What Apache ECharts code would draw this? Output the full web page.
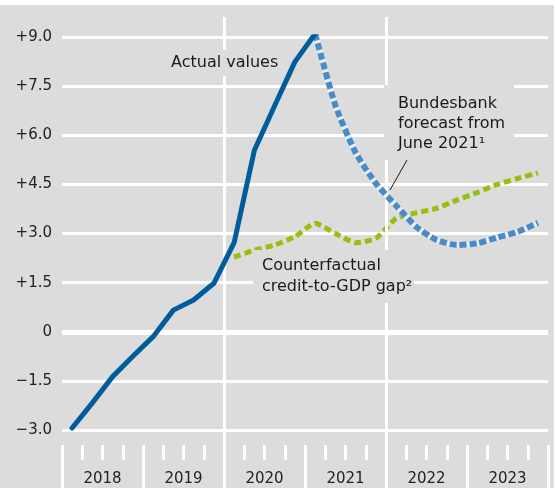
<!DOCTYPE html>
<html>
<head>
<meta charset="utf-8">
<script src="https://cdn.jsdelivr.net/npm/echarts@6/dist/echarts.min.js"></script>
<style>
html,body{margin:0;padding:0;background:#fff;}
#c{width:555px;height:488px;}
</style>
</head>
<body>
<div id="c"></div>
<script>
const quarters = ['2018Q1','2018Q2','2018Q3','2018Q4','2019Q1','2019Q2','2019Q3','2019Q4',
  '2020Q1','2020Q2','2020Q3','2020Q4','2021Q1','2021Q2','2021Q3','2021Q4',
  '2022Q1','2022Q2','2022Q3','2022Q4','2023Q1','2023Q2','2023Q3','2023Q4'];
const yearLabels = ['2018','2019','2020','2021','2022','2023'];
const yTickValues = [-3, -1.5, 0, 1.5, 3, 4.5, 6, 7.5, 9];
const yTickLabels = ['\u22123.0','\u22121.5','0','+1.5','+3.0','+4.5','+6.0','+7.5','+9.0'];

const actual = [-2.94, -2.17, -1.37, -0.75, -0.15, 0.66, 0.97, 1.48,
  2.72, 5.54, 6.9, 8.24, 9.1, null, null, null,
  null, null, null, null, null, null, null, null];
const forecast = [null, null, null, null, null, null, null, null,
  null, null, null, null, 9.1, 6.91, 5.47, 4.53,
  3.85, 3.2, 2.8, 2.65, 2.7, 2.88, 3.05, 3.33];
const counterfactual = [null, null, null, null, null, null, null, null,
  2.28, 2.49, 2.65, 2.9, 3.31, 3.0, 2.72, 2.85,
  3.46, 3.63, 3.77, 4.02, 4.25, 4.5, 4.68, 4.85];

const FONT = 'DejaVu Sans';
const BG = '#dcdcdc';
const chart = echarts.init(document.getElementById('c'), null, {renderer:'canvas'});

const option = {
  animation: false,
  backgroundColor: BG,
  grid: [
    {left: 62, right: 7, top: 37, bottom: 58},
    {left: 62, right: 7, top: 17, bottom: 43},
    {left: 62, right: 7, top: 17, bottom: 43}
  ],
  xAxis: [
    {type:'category', gridIndex:0, data: quarters, boundaryGap:true,
     axisLine:{show:false}, axisTick:{show:false}, axisLabel:{show:false}, splitLine:{show:false}},
    {type:'value', gridIndex:1, min:0, max:24, interval:1, position:'bottom',
     axisLine:{show:false}, splitLine:{show:false},
     axisTick:{show:true, length:15, lineStyle:{color:'#fff', width:3}},
     axisLabel:{show:true, margin:27, fontFamily:FONT, fontSize:15, color:'#222',
       formatter: function(v){ return (v % 4 === 2) ? yearLabels[(v-2)/4] : ''; }}},
    {type:'value', gridIndex:2, min:0, max:24, interval:4, position:'bottom',
     axisLine:{show:false}, splitLine:{show:false}, axisLabel:{show:false},
     axisTick:{show:true, length:43, lineStyle:{color:'#fff', width:3}}}
  ],
  yAxis: [
    {type:'value', gridIndex:0, min:-3, max:9, interval:1.5,
     axisLine:{show:false}, axisTick:{show:false},
     splitLine:{show:true, lineStyle:{color:'#fff', width:3}},
     axisLabel:{margin:10, fontFamily:FONT, fontSize:15, color:'#222',
       formatter: function(v){ const i = yTickValues.findIndex(t => Math.abs(t-v) < 1e-6); return i >= 0 ? yTickLabels[i] : ''; }}},
    {type:'value', gridIndex:1, min:0, max:1, show:false},
    {type:'value', gridIndex:2, min:0, max:1, show:false}
  ],
  series: [
    {type:'line', xAxisIndex:1, yAxisIndex:1, data:[], z:1, silent:true,
     markLine:{silent:true, symbol:['none','none'], label:{show:false},
       lineStyle:{color:'#fff', width:3, type:'solid'},
       data:[{xAxis:8},{xAxis:16}]}},
    {type:'line', xAxisIndex:0, yAxisIndex:0, data:[], z:1, silent:true,
     markLine:{silent:true, symbol:['none','none'], label:{show:false},
       lineStyle:{color:'#fff', width:5, type:'solid'},
       data:[{yAxis:0}]}},
    {name:'Counterfactual', type:'line', xAxisIndex:0, yAxisIndex:0, data: counterfactual,
     showSymbol:false, smooth:0.2, z:3, connectNulls:false,
     lineStyle:{color:'#97bf0d', width:5, type:[7,4], cap:'butt'}},
    {name:'Forecast base', type:'line', xAxisIndex:0, yAxisIndex:0, data: forecast,
     showSymbol:false, smooth:0.2, z:4,
     lineStyle:{color:'#e9eef4', width:6, type:'solid'}},
    {name:'Forecast', type:'line', xAxisIndex:0, yAxisIndex:0, data: forecast,
     showSymbol:false, smooth:0.2, z:5,
     lineStyle:{color:'#4a8bc6', width:6, type:[7,3], cap:'butt'}},
    {name:'Actual', type:'line', xAxisIndex:0, yAxisIndex:0, data: actual,
     showSymbol:false, z:6,
     lineStyle:{color:'#005c9c', width:5, join:'round', cap:'round'}}
  ],
  graphic: [
    {type:'rect', z:100, shape:{x:0, y:0, width:555, height:5}, style:{fill:'#fff'}},
    {type:'rect', z:100, shape:{x:554, y:0, width:1, height:488}, style:{fill:'#fff'}},
    {type:'text', z:50, x:167, y:63,
     style:{text:'Actual values', font:'16px "DejaVu Sans"', fill:'#1a1a1a',
       verticalAlign:'middle', backgroundColor:BG, padding:[5,4,5,4]}},
    {type:'text', z:50, x:384, y:85,
     style:{text:'Bundesbank\nforecast from\nJune 2021\u00b9', font:'16px "DejaVu Sans"', fill:'#1a1a1a',
       lineHeight:20, verticalAlign:'top', backgroundColor:BG, padding:[9,9,6,14]}},
    {type:'text', z:50, x:253, y:250,
     style:{text:'Counterfactual\ncredit-to-GDP gap\u00b2', font:'16px "DejaVu Sans"', fill:'#1a1a1a',
       lineHeight:21, verticalAlign:'top', backgroundColor:BG, padding:[5,2,6,9]}},
    {type:'line', z:50, shape:{x1:407, y1:160, x2:390, y2:190}, style:{stroke:'#1a1a1a', lineWidth:1}}
  ]
};
chart.setOption(option);
</script>
</body>
</html>
